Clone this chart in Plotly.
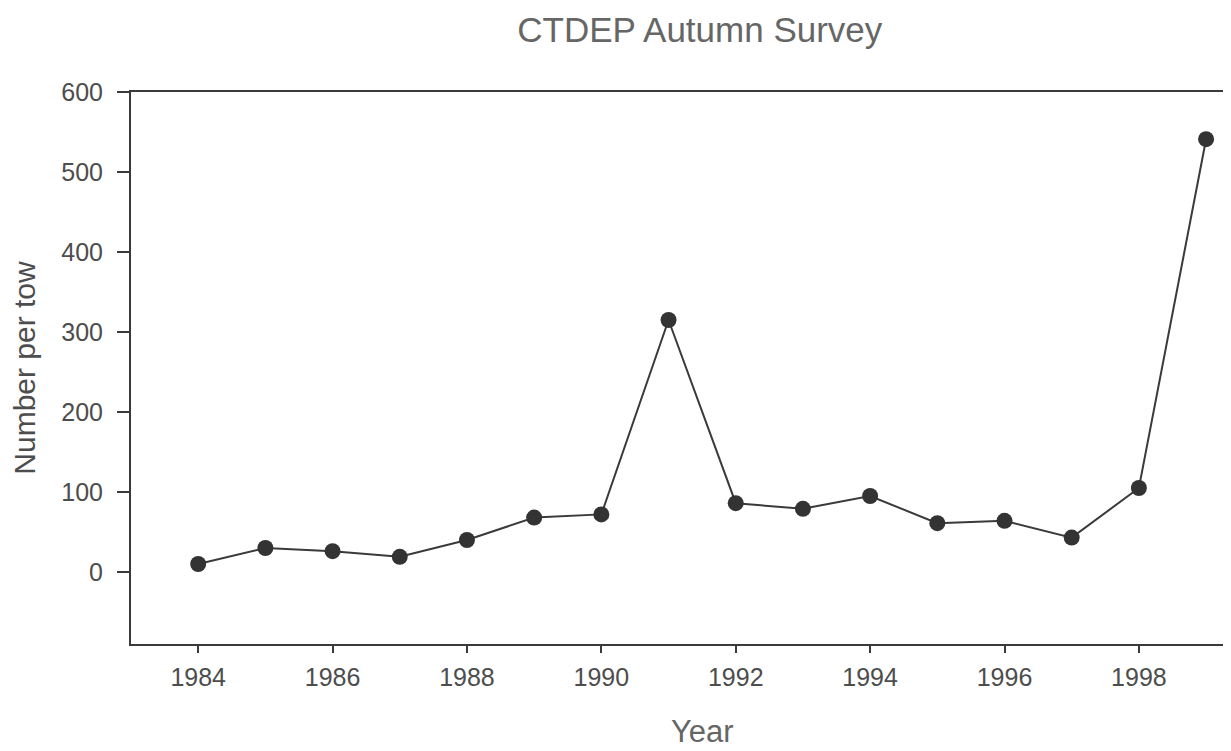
import plotly.graph_objects as go

years = [1984, 1985, 1986, 1987, 1988, 1989, 1990, 1991, 1992, 1993, 1994, 1995, 1996, 1997, 1998, 1999]
number_per_tow = [10, 30, 26, 19, 40, 68, 72, 315, 86, 79, 95, 61, 64, 43, 105, 541]

x_ticks = [1984, 1986, 1988, 1990, 1992, 1994, 1996, 1998]
y_ticks = [0, 100, 200, 300, 400, 500, 600]

TEXT = "#4d4d4d"
LINE = "#3a3a3a"
FONT = "Liberation Sans, Arial, sans-serif"

fig = go.Figure()
fig.add_trace(go.Scatter(
    x=years, y=number_per_tow, mode="lines+markers",
    line=dict(color=LINE, width=2),
    marker=dict(color="#333333", size=16, line=dict(width=0)),
    showlegend=False, hoverinfo="x+y",
))

fig.update_layout(
    width=1231, height=751,
    paper_bgcolor="white", plot_bgcolor="white",
    margin=dict(l=123, r=0, t=84, b=115, autoexpand=False),
    font=dict(family=FONT, color=TEXT),
    title=dict(text="CTDEP Autumn Survey", x=0.562, xanchor="center",
               y=0.971, yanchor="middle",
               font=dict(size=35, color="#666666", family=FONT)),
    annotations=[dict(text="Year", xref="paper", yref="paper", x=0.516, y=-0.158,
                      xanchor="center", yanchor="middle", showarrow=False,
                      font=dict(size=31, color="#666666", family=FONT))],
)

fig.update_xaxes(
    range=[1983.0, 1999.49], tickvals=x_ticks, ticktext=[str(v) for v in x_ticks],
    showgrid=False, zeroline=False, showline=True, linecolor=LINE, linewidth=2,
    mirror=True, ticks="outside", ticklen=7, tickcolor=LINE, tickwidth=1.5,
    ticklabelstandoff=3,
    tickfont=dict(size=25, color=TEXT, family=FONT),
)
fig.update_yaxes(
    range=[-90, 600], tickvals=y_ticks, ticktext=[str(v) for v in y_ticks],
    showgrid=False, zeroline=False, showline=True, linecolor=LINE, linewidth=2,
    ticks="outside", ticklen=12, tickcolor=LINE, tickwidth=1.5,
    ticklabelstandoff=9,
    tickfont=dict(size=25, color=TEXT, family=FONT),
    title=dict(text="Number per tow", font=dict(size=30, color=TEXT, family=FONT), standoff=18),
)

fig.write_html("out.html")
